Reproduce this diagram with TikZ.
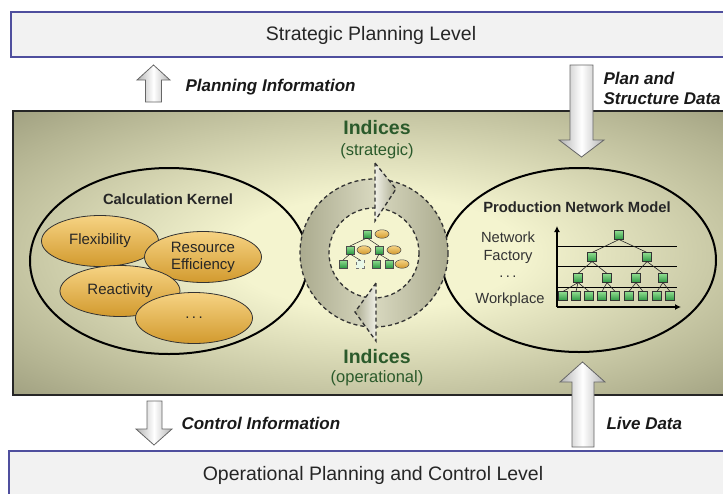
\documentclass[tikz,border=0pt]{standalone}
\usepackage{fontspec}
\setmainfont{Liberation Sans}
\usetikzlibrary{shapes.geometric, arrows.meta}
\definecolor{barfill}{HTML}{F2F2F2}
\definecolor{barline}{HTML}{4F4F9E}
\definecolor{paneldark}{HTML}{6E6E54}
\definecolor{panelmid}{HTML}{B4B492}
\definecolor{panellight}{HTML}{F4F4CF}
\definecolor{goldtop}{HTML}{F6D383}
\definecolor{goldbottom}{HTML}{D29A2E}
\definecolor{boxlight}{HTML}{8EDB8E}
\definecolor{boxdark}{HTML}{2F9A45}
\definecolor{indexgreen}{HTML}{2B5A2B}
\definecolor{ringdark}{HTML}{ABAB8F}
\definecolor{ringlight}{HTML}{D8D8BF}
\pgfdeclareradialshading{panelglow}{\pgfpoint{0bp}{0bp}}{color(0bp)=(panellight); color(10bp)=(panellight); color(30bp)=(panelmid); color(50bp)=(paneldark); color(72bp)=(paneldark)}
\tikzset{
	levelbar/.style={draw=barline, line width=1.2pt, fill=barfill},
	leveltext/.style={text=black!85, font=\fontsize{19.5}{23}\selectfont},
	flowtext/.style={anchor=west, align=left, text=black!90, font=\fontsize{17}{20}\selectfont\bfseries\itshape},
	blockarrow/.style={draw=black!60, line width=0.8pt, left color=black!30, right color=black!30, middle color=white},
	hull/.style={draw=black, line width=2pt},
	titletext/.style={text=black!85, font=\fontsize{14.8}{17}\selectfont\bfseries},
	kernelitem/.style={ellipse, draw=black!80, line width=0.8pt, top color=goldtop, bottom color=goldbottom, minimum width=117pt, minimum height=51pt, inner sep=0pt, align=center, text=black!85, font=\fontsize{15}{17}\selectfont},
	leveltag/.style={text=black!80, font=\fontsize{14.7}{17}\selectfont},
	netbox/.style={draw=black!80, line width=0.6pt, top color=boxlight, bottom color=boxdark, minimum size=8.5pt, inner sep=0pt},
	minibox/.style={draw=black!70, line width=0.5pt, top color=boxlight, bottom color=boxdark, minimum size=7.5pt, inner sep=0pt},
	miniempty/.style={draw=black!55, dashed, line width=0.5pt, fill=white!80!boxlight, minimum size=7.5pt, inner sep=0pt},
	miniball/.style={ellipse, draw=black!70, line width=0.5pt, top color=goldtop, bottom color=goldbottom, minimum width=14pt, minimum height=8.5pt, inner sep=0pt},
	treeedge/.style={draw=black!85, line width=0.6pt},
	ringline/.style={draw=black!80, dash pattern=on 4pt off 3pt, line width=1.3pt},
	indextext/.style={text=indexgreen, font=\fontsize{19.5}{23}\selectfont\bfseries},
	indexsub/.style={text=indexgreen, font=\fontsize{16.5}{19}\selectfont}
}

\begin{document}
\begin{tikzpicture}[x=1pt, y=-1pt]
	\useasboundingbox (0,0) rectangle (723,493);
	\clip (0,0) rectangle (723,493);
	
	% levels
	\draw[levelbar] (11,12) rectangle (740,57);
	\draw[levelbar] (9,451) rectangle (740,505);
	\node[leveltext] (strategic) at (371,35) {Strategic Planning Level};
	\node[leveltext] (operational) at (373,475) {Operational Planning and Control Level};
	
	% panel
	\shade[shading=panelglow] (13,111) rectangle (740,395);
	\draw[line width=1.2pt, black!85] (13,111) rectangle (740,395);
	
	% calculation kernel
	\draw[hull] (169,261) ellipse (139 and 93);
	\node[titletext] (kernel) at (168,199) {Calculation Kernel};
	\node[kernelitem] (flex) at (100,241) {Flexibility};
	\node[kernelitem] (resource) at (203,257) {Resource\\Efficiency};
	\node[kernelitem, minimum width=120pt] (react) at (120,291) {Reactivity};
	\node[kernelitem] (more) at (194,318) {.\,.\,.};
	
	% production network model
	\draw[hull] (579,260) ellipse (137 and 92);
	\node[titletext] (model) at (577,207) {Production Network Model};
	\node[leveltag] (tagnet) at (508,237) {Network};
	\node[leveltag] (tagfac) at (508,257) {Factory};
	\node[leveltag] (tagdots) at (508,277) {.\,.\,.};
	\node[leveltag] (tagwork) at (510,300) {Workplace};
	
	\draw[line width=0.9pt] (557,246) -- (677,246);
	\draw[line width=0.9pt] (557,266) -- (677,266);
	\draw[line width=0.9pt] (557,287) -- (677,287);
	\coordinate (origin) at (557,307);
	\coordinate (ytop) at (557,226);
	\coordinate (xend) at (681,307);
	\draw[line width=1.6pt, -{Latex[length=6pt, width=6pt]}] (origin) -- (ytop);
	\draw[line width=1.6pt, -{Latex[length=6pt, width=6pt]}] (origin) -- (xend);
	
	\node[netbox] (n0) at (619,235) {};
	\node[netbox] (n1) at (592,257) {};
	\node[netbox] (n2) at (647,257) {};
	\node[netbox] (m1) at (578,278) {};
	\node[netbox] (m2) at (607,278) {};
	\node[netbox] (m3) at (636,278) {};
	\node[netbox] (m4) at (663,278) {};
	\node[netbox] (l1) at (563,296) {};
	\node[netbox] (l2) at (576,296) {};
	\node[netbox] (l3) at (589,296) {};
	\node[netbox] (l4) at (602,296) {};
	\node[netbox] (l5) at (615,296) {};
	\node[netbox] (l6) at (629,296) {};
	\node[netbox] (l7) at (643,296) {};
	\node[netbox] (l8) at (657,296) {};
	\node[netbox] (l9) at (670,296) {};
	
	\draw[treeedge] (n0.south) -- (n1.north);
	\draw[treeedge] (n0.south) -- (n2.north);
	\draw[treeedge] (n1.south) -- (m1.north);
	\draw[treeedge] (n1.south) -- (m2.north);
	\draw[treeedge] (n2.south) -- (m3.north);
	\draw[treeedge] (n2.south) -- (m4.north);
	\draw[treeedge] (m1.south) -- (l1.north);
	\draw[treeedge] (m1.south) -- (l2.north);
	\draw[treeedge] (m1.south) -- (l3.north);
	\draw[treeedge] (m2.south) -- (l4.north);
	\draw[treeedge] (m2.south) -- (l5.north);
	\draw[treeedge] (m3.south) -- (l6.north);
	\draw[treeedge] (m3.south) -- (l7.north);
	\draw[treeedge] (m4.south) -- (l8.north);
	\draw[treeedge] (m4.south) -- (l9.north);
	
	% indices cycle
	\shade[left color=ringdark, right color=ringlight] (374,327) arc[start angle=90, end angle=270, radius=74] -- (374,208) arc[start angle=270, end angle=90, radius=45] -- cycle;
	\shade[left color=ringlight, right color=ringdark] (374,179) arc[start angle=-90, end angle=90, radius=74] -- (374,298) arc[start angle=90, end angle=-90, radius=45] -- cycle;
	\draw[ringline] (374,253) circle [radius=74];
	\draw[ringline] (374,253) circle [radius=45];
	\draw[ringline, left color=ringlight!40!white, right color=ringdark] (375,163) -- (396,189) -- (375,221) -- cycle;
	\draw[ringline, left color=ringdark, right color=ringlight!40!white] (376,283) -- (355,312) -- (376,341) -- cycle;
	
	\node[minibox] (c0) at (367,234) {};
	\node[miniball] at (382,234) {};
	\node[minibox] (c1) at (350,250) {};
	\node[miniball] at (364,250) {};
	\node[minibox] (c2) at (379,250) {};
	\node[miniball] at (394,250) {};
	\node[minibox] (c3) at (343,264) {};
	\node[miniempty] (c4) at (360,264) {};
	\node[minibox] (c5) at (376,264) {};
	\node[minibox] (c6) at (389,264) {};
	\node[miniball] at (402,264) {};
	\draw[treeedge, line width=0.5pt] (c0.south) -- (c1.north);
	\draw[treeedge, line width=0.5pt] (c0.south) -- (c2.north);
	\draw[treeedge, line width=0.5pt] (c1.south) -- (c3.north);
	\draw[treeedge, line width=0.5pt] (c1.south) -- (c4.north);
	\draw[treeedge, line width=0.5pt] (c2.south) -- (c5.north);
	\draw[treeedge, line width=0.5pt] (c2.south) -- (c6.north);
	
	\node[indextext] (stratidx) at (377,128) {Indices};
	\node[indexsub] (stratsub) at (377,151) {(strategic)};
	\node[indextext] (opidx) at (377,357) {Indices};
	\node[indexsub] (opsub) at (377,378) {(operational)};
	
	% flows
	\draw[blockarrow] (153.5,65) -- (170,80) -- (161.5,80) -- (161.5,102) -- (145.5,102) -- (145.5,80) -- (137,80) -- cycle;
	\draw[blockarrow] (570,65) -- (593,65) -- (593,140) -- (604,140) -- (581.5,157) -- (559,140) -- (570,140) -- cycle;
	\draw[blockarrow] (147,401) -- (162,401) -- (162,429) -- (172,429) -- (154,445) -- (136,429) -- (147,429) -- cycle;
	\draw[blockarrow] (582.5,362) -- (605,382) -- (594,382) -- (594,447) -- (572,447) -- (572,382) -- (560,382) -- cycle;
	
	\node[flowtext] (planinfo) at (182,87) {Planning Information};
	\node[flowtext] (plandata) at (600,88) {Plan and\\Structure Data};
	\node[flowtext] (ctrlinfo) at (178,423) {Control Information};
	\node[flowtext] (livedata) at (603,423) {Live Data};
\end{tikzpicture}
\end{document}
